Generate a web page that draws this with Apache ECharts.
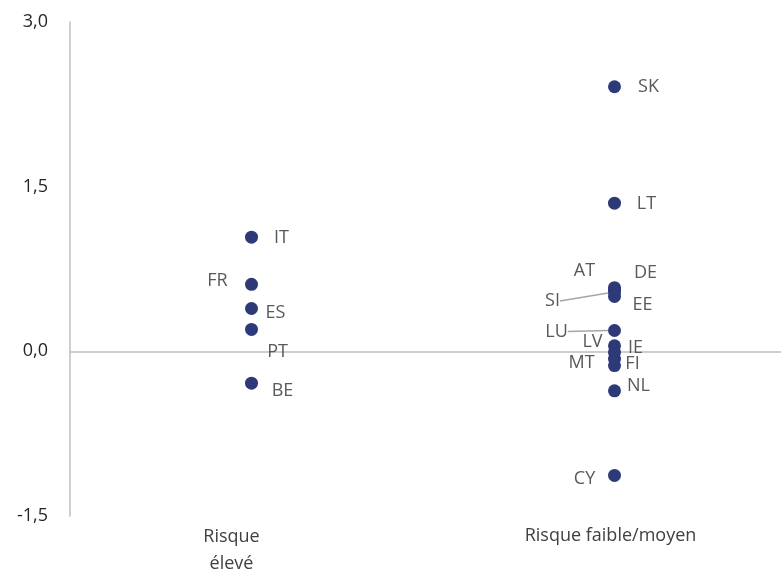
<!DOCTYPE html>
<html>
<head>
<meta charset="utf-8">
<script src="https://cdn.jsdelivr.net/npm/echarts@6/dist/echarts.min.js"></script>
<style>
    html, body { margin: 0; padding: 0; background: #ffffff; }
    #chart { width: 781px; height: 569px; }
</style>
</head>
<body>
<div id="chart"></div>
<script>
// categories on the x axis
const categories = ['Risque\nélevé', 'Risque faible/moyen'];

// high risk group
const highRiskCountries = ['IT', 'FR', 'ES', 'PT', 'BE'];
const highRiskValues = [1.04, 0.61, 0.39, 0.20, -0.29];

// low / medium risk group
const lowRiskCountries = ['SK', 'LT', 'DE', 'AT', 'SI', 'EE', 'LU', 'LV', 'IE', 'MT', 'FI', 'NL', 'CY'];
const lowRiskValues = [2.41, 1.35, 0.58, 0.56, 0.54, 0.50, 0.19, 0.05, -0.01, -0.07, -0.13, -0.36, -1.13];

// y axis ticks
const yMin = -1.5;
const yMax = 3.0;
const yStep = 1.5;

// where each country label sits relative to its dot (px)
const labelOffsets = {
    IT: [30, 1], FR: [-34, -3], ES: [24, 4], PT: [26, 22], BE: [31, 8],
    SK: [34, 0], LT: [32, 1], DE: [31, -15], AT: [-30, -19], SI: [-62, 9],
    EE: [28, 8], LU: [-58, 1], LV: [-22, -4], IE: [21, -5], MT: [-33, 4],
    FI: [18, -2], NL: [24, -5], CY: [-30, 3]
};
const withLeader = ['SI', 'LU'];

const FONT = '"Open Sans", sans-serif';

function buildPoints(catIndex, names, values) {
    return names.map((n, i) => ({
        name: n,
        value: [catIndex, values[i]],
        labelLine: { show: withLeader.includes(n) }
    }));
}

const chart = echarts.init(document.getElementById('chart'), null, { renderer: 'canvas' });

const option = {
    backgroundColor: '#ffffff',
    animation: false,
    grid: {
        left: 70,
        right: -15,
        top: 22,
        bottom: 53,
        outerBoundsMode: 'none'
    },
    xAxis: [
        {
            type: 'category',
            data: [
                { value: categories[0], textStyle: { padding: [0, 40, 0, 0], lineHeight: 27 } },
                { value: categories[1], textStyle: { padding: [4, 8, 0, 0] } }
            ],
            position: 'bottom',
            axisLine: { show: false, onZero: false },
            axisTick: { show: false },
            axisLabel: {
                color: '#404040',
                fontSize: 18,
                fontFamily: FONT,
                margin: 7
            },
            splitLine: { show: false }
        },
        {
            type: 'category',
            data: categories,
            position: 'top',
            axisLine: { show: true, onZero: true, lineStyle: { color: '#BFBFBF', width: 1.5 } },
            axisTick: { show: false },
            axisLabel: { show: false },
            splitLine: { show: false }
        }
    ],
    yAxis: {
        type: 'value',
        min: yMin,
        max: yMax,
        interval: yStep,
        axisLine: { show: true, lineStyle: { color: '#BFBFBF', width: 1.5 } },
        axisTick: { show: false },
        splitLine: { show: false },
        axisLabel: {
            color: '#262626',
            fontSize: 18,
            fontFamily: FONT,
            margin: 22,
            formatter: v => v.toFixed(1).replace('.', ',')
        }
    },
    series: [
        {
            type: 'scatter',
            xAxisIndex: 0,
            symbolSize: 13,
            itemStyle: { color: '#2E3A78', opacity: 1 },
            data: buildPoints(0, highRiskCountries, highRiskValues)
                .concat(buildPoints(1, lowRiskCountries, lowRiskValues)),
            label: {
                show: true,
                position: 'inside',
                formatter: '{b}',
                color: '#595959',
                fontSize: 18,
                fontFamily: FONT
            },
            labelLine: {
                show: false,
                lineStyle: { color: '#A6A6A6', width: 1.5 }
            },
            labelLayout: function (params) {
                const o = labelOffsets[params.text] || [0, 0];
                return { dx: o[0], dy: o[1] };
            }
        }
    ]
};

chart.setOption(option);

window.addEventListener('resize', () => {
    chart.resize();
});
</script>
</body>
</html>
